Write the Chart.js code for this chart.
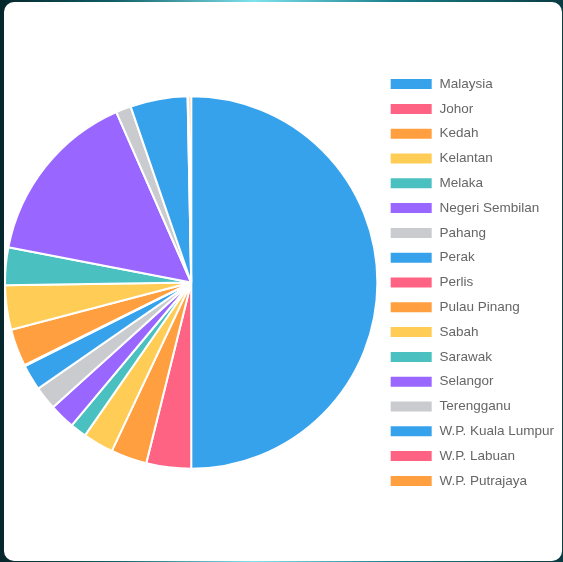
<!DOCTYPE html>
<html>
<head>
<meta charset="utf-8">
<script src="https://cdn.jsdelivr.net/npm/chart.js@4.4.0/dist/chart.umd.min.js"></script>
<style>
    html, body {
        margin: 0;
        padding: 0;
        width: 563px;
        height: 562px;
        overflow: hidden;
        background: linear-gradient(90deg, #06262b 0%, #0f5d66 20%, #7fe3ee 45%, #1a7f8a 70%, #0b3b42 100%);
    }
    .card {
        position: absolute;
        left: 4px;
        top: 2px;
        width: 558px;
        height: 559px;
        background: #ffffff;
        border-radius: 10px;
    }
    .chart-box {
        position: relative;
        width: 560px;
        height: 561px;
    }
</style>
</head>
<body>
<div class="card">
    <div class="chart-box">
        <canvas id="stateChart"></canvas>
    </div>
</div>
<script>
// Negeri (Malaysia = jumlah semua negeri)
const LABELS = ['Malaysia', 'Johor', 'Kedah', 'Kelantan', 'Melaka', 'Negeri Sembilan',
                'Pahang', 'Perak', 'Perlis', 'Pulau Pinang', 'Sabah', 'Sarawak',
                'Selangor', 'Terengganu', 'W.P. Kuala Lumpur', 'W.P. Labuan', 'W.P. Putrajaya'];

const VALUES = [1791, 139, 112, 95, 51, 80,
                73, 80, 3, 116, 138, 117,
                551, 47, 178, 3, 8];

const PALETTE = ['#36A2EB', '#FF6384', '#FF9F40', '#FFCD56', '#4BC0C0', '#9966FF', '#C9CBCF'];

const colors = LABELS.map((_, i) => PALETTE[i % PALETTE.length]);

const ctx = document.getElementById('stateChart').getContext('2d');

new Chart(ctx, {
    type: 'pie',
    data: {
        labels: LABELS,
        datasets: [{
            data: VALUES,
            backgroundColor: colors,
            borderColor: '#ffffff',
            borderWidth: 2
        }]
    },
    options: {
        responsive: true,
        maintainAspectRatio: false,
        animation: false,
        plugins: {
            legend: {
                position: 'right',
                labels: {
                    boxWidth: 43,
                    boxHeight: 12,
                    padding: 11.3,
                    color: '#666',
                    font: {
                        family: "'Liberation Sans', Arial, Helvetica, sans-serif",
                        size: 13.5
                    }
                }
            },
            tooltip: {
                enabled: false
            }
        }
    }
});
</script>
</body>
</html>
